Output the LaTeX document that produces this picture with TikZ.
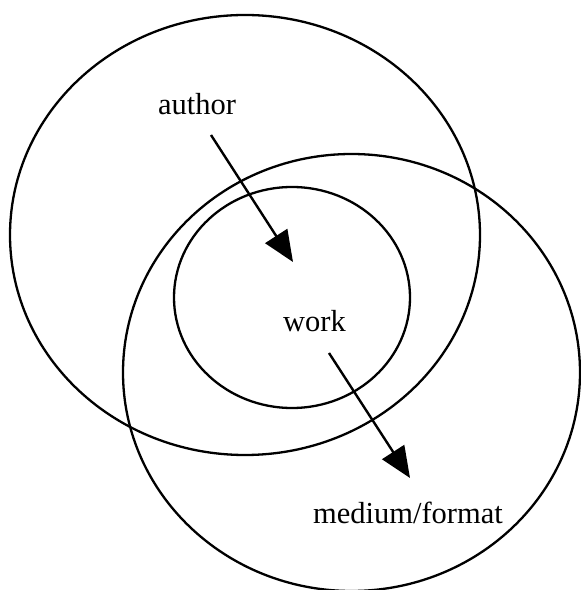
\documentclass[tikz,border=0pt]{standalone}
\usepackage{fontspec}
\setmainfont{Liberation Serif}
\usepackage{tikz}
\usetikzlibrary{arrows.meta, positioning}

\begin{document}
\begin{tikzpicture}[x=1pt, y=1pt,
    ring/.style={draw, line width=2.3pt},
    label/.style={font=\fontsize{30.5}{36}\selectfont, anchor=base, inner sep=0pt},
    flow/.style={line width=2.4pt, -{Triangle[length=31pt, width=26pt]}}]
  \useasboundingbox (0, 0) rectangle (581, 590);
  % the three rings
  \draw[ring] (245, 355) ellipse [x radius=235, y radius=220];
  \draw[ring] (351.5, 217.5) ellipse [x radius=228.5, y radius=218.5];
  \draw[ring] (292, 292.5) ellipse [x radius=118, y radius=110.5];
  % labels
  \node[label] (author) at (197, 475) {author};
  \node[label] (work) at (314.5, 258) {work};
  \node[label] (medium) at (408, 66) {medium/format};
  % arrows
  \coordinate (authortail) at (211, 455);
  \coordinate (worktip) at (293, 328);
  \coordinate (worktail) at (329, 237);
  \coordinate (mediumtip) at (410, 112);
  \draw[flow] (authortail) -- (worktip);
  \draw[flow] (worktail) -- (mediumtip);
\end{tikzpicture}
\end{document}
